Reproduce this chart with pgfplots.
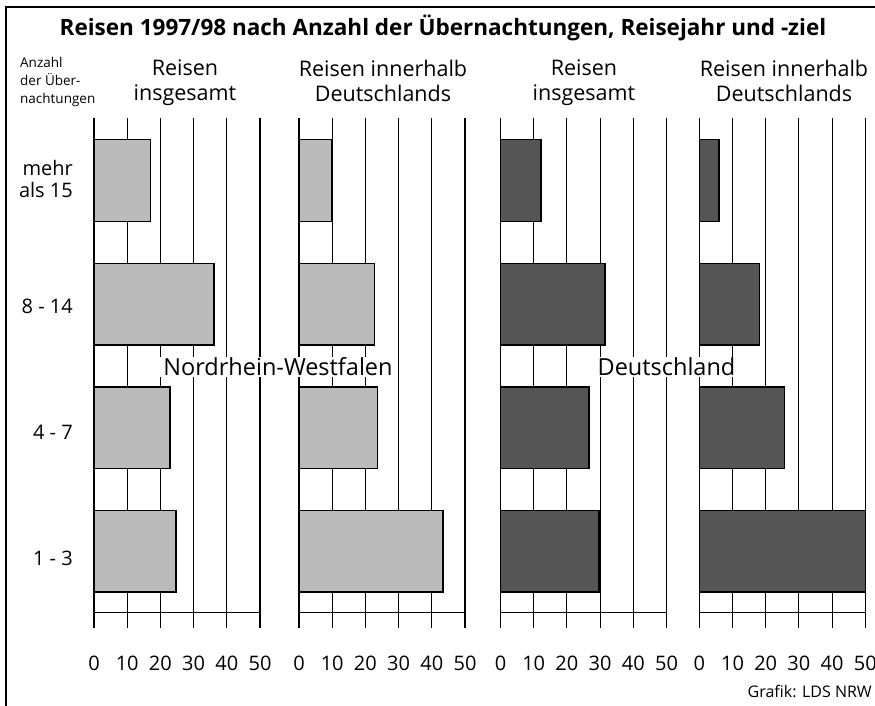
\documentclass[border=0pt]{standalone}
\usepackage{fontspec}
\setmainfont{Open Sans}
\usepackage{pgfplots}
\pgfplotsset{compat=1.18}
\definecolor{hellgrau}{HTML}{BBBBBB}
\definecolor{dunkelgrau}{HTML}{555555}

\pgfplotsset{
  panel/.style={
    scale only axis, width=166pt, height=510pt,
    anchor=south west, clip=false,
    xmin=0, xmax=50, ymin=-0.623, ymax=3.506,
    xtick={0,10,...,50}, ytick=\empty,
    xmajorgrids, grid style={black, line width=1.1pt},
    axis line style={draw=none}, major tick length=0pt,
    /pgf/number format/assume math mode=true,
    xticklabel style={font=\fontsize{20}{20}\selectfont, anchor=base, yshift=-42pt},
  },
  balken/.style={xbar, bar width=0.66, bar shift=0pt, draw=black, line width=1.5pt, fill=#1},
}

\begin{document}
\begin{tikzpicture}[x=1pt, y=-1pt]
\path[use as bounding box] (0,0) rectangle (875,706);

% NRW, insgesamt
\begin{axis}[panel, at={(94pt,-628pt)}]
\addplot[balken=hellgrau] coordinates {(24.7,0) (22.9,1) (36.2,2) (17.0,3)};
\addplot[black, line width=1.1pt] coordinates {(0,-0.494) (50,-0.494)};
\end{axis}
% NRW, innerhalb Deutschlands
\begin{axis}[panel, at={(299pt,-628pt)}]
\addplot[balken=hellgrau] coordinates {(43.4,0) (23.6,1) (22.8,2) (9.8,3)};
\addplot[black, line width=1.1pt] coordinates {(0,-0.494) (50,-0.494)};
\end{axis}
% Deutschland, insgesamt
\begin{axis}[panel, at={(500.5pt,-628pt)}]
\addplot[balken=dunkelgrau] coordinates {(29.6,0) (26.7,1) (31.4,2) (12.2,3)};
\addplot[black, line width=1.1pt] coordinates {(0,-0.494) (50,-0.494)};
\end{axis}
% Deutschland, innerhalb Deutschlands
\begin{axis}[panel, at={(699.3pt,-628pt)}]
\addplot[balken=dunkelgrau] coordinates {(50,0) (25.6,1) (18.1,2) (6.0,3)};
\addplot[black, line width=1.1pt] coordinates {(0,-0.494) (50,-0.494)};
\end{axis}

% Rahmen
\draw[line width=2pt] (6,720) -- (6,7) -- (890,7);

% Texte
\node[anchor=base, font=\bfseries\fontsize{22.5}{22.5}\selectfont] at (443,36)
  {Reisen 1997/98 nach Anzahl der Übernachtungen, Reisejahr und -ziel};
\node[anchor=north west, align=left, inner sep=0pt, font=\fontsize{13.5}{18}\selectfont] at (20,57)
  {Anzahl\\der Über-\\nachtungen};

\foreach \xc/\txt in {185/{Reisen\\insgesamt}, 383/{Reisen innerhalb\\Deutschlands},
                      584/{Reisen\\insgesamt}, 784/{Reisen innerhalb\\Deutschlands}}
  \node[anchor=north, align=center, inner sep=0pt, font=\fontsize{21.5}{25}\selectfont] at (\xc,60) {\txt};

\begin{scope}[font=\fontsize{20}{22}\selectfont]
\node[anchor=east, align=right, inner sep=0pt] at (73,179) {mehr\\als 15};
\node[anchor=east, inner sep=0pt] at (73,306) {8 - 14};
\node[anchor=east, inner sep=0pt] at (73,432) {4 - 7};
\node[anchor=east, inner sep=0pt] at (73,558) {1 - 3};
\end{scope}

\node[fill=white, inner xsep=4pt, inner ysep=1pt, font=\fontsize{23.5}{23.5}\selectfont] at (278,367) {Nordrhein-Westfalen};
\node[fill=white, inner xsep=4pt, inner ysep=1pt, font=\fontsize{23.5}{23.5}\selectfont] at (666.5,367) {Deutschland};

\node[anchor=base east, inner sep=0pt, font=\fontsize{16}{16}\selectfont] at (872,697) {Grafik: LDS NRW};
\end{tikzpicture}
\end{document}
